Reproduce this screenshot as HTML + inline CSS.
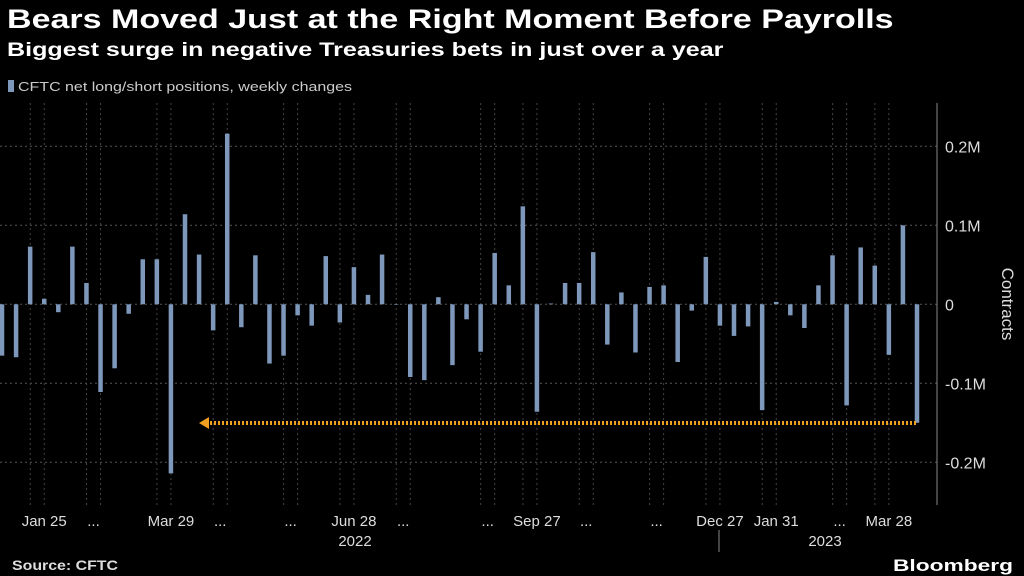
<!DOCTYPE html>
<html><head><meta charset="utf-8"><style>
body{margin:0;background:#000;width:1024px;height:576px;overflow:hidden;font-family:"Liberation Sans",sans-serif;color:#fff}
.t{position:absolute;left:7px;top:4px;font-size:27px;font-weight:bold;transform:scaleX(1.26);transform-origin:left top;white-space:nowrap}
.s{position:absolute;left:7px;top:40px;font-size:19px;font-weight:bold;transform:scaleX(1.32);transform-origin:left top;white-space:nowrap}
</style></head><body>
<div class="t">Bears Moved Just at the Right Moment Before Payrolls</div>
<div class="s">Biggest surge in negative Treasuries bets in just over a year</div>
<svg width="1024" height="576" style="position:absolute;left:0;top:0" id="c">
<g><rect x="8" y="80" width="6" height="12" fill="#7e98bb"/><text x="18" y="91" fill="#ccc" font-size="13" textLength="334" lengthAdjust="spacingAndGlyphs">CFTC net long/short positions, weekly changes</text></g>
<g id="grid"></g><g id="bars"></g>
<line x1="937" y1="103" x2="937" y2="505" stroke="#888"/>
<text transform="translate(1002,304) rotate(90)" fill="#ddd" font-size="17" text-anchor="middle">Contracts</text>
<g id="ylab"></g><g id="xlab"></g>
<g><line x1="206" y1="423" x2="917" y2="423" stroke="#f0a020" stroke-width="4" stroke-dasharray="2,2"/><path d="M199 423 L209 417 L209 429Z" fill="#f0a020"/></g>
<text x="355" y="546" fill="#ddd" font-size="15" text-anchor="middle">2022</text>
<text x="825" y="546" fill="#ddd" font-size="15" text-anchor="middle">2023</text>
<line x1="719" y1="530" x2="719" y2="552" stroke="#888"/>
<text x="12" y="570" fill="#ddd" font-size="14" font-weight="bold" textLength="106" lengthAdjust="spacingAndGlyphs">Source: CFTC</text>
<text x="893" y="571" fill="#fff" font-size="17" font-weight="bold" textLength="120" lengthAdjust="spacingAndGlyphs">Bloomberg</text>
</svg>
<script>
const values=[-65,-67,73,7,-10,73,27,-111,-81,-12,57,57,-214,114,63,-33,216,-29,62,-75,-65,-14,-27,61,-23,47,12,63,0,-92,-96,9,-77,-19,-60,65,24,124,-136,1,27,27,66,-51,15,-61,22,24,-73,-8,60,-27,-40,-28,-134,3,-14,-30,24,62,-128,72,49,-64,100,-150];
const yTicks=[200,100,0,-100,-200];
const yTickLabels=["0.2M","0.1M","0","-0.1M","-0.2M"];
const xLabels=["Jan 25","...","Mar 29","...","...","Jun 28","...","...","Sep 27","...","...","Dec 27","Jan 31","...","Mar 28"];
const xLabelIdx=[3,7,12,16,21,25,29,35,38,42,47,51,55,60,63];
const NS="http://www.w3.org/2000/svg";
const x=i=>2+i*(915/(values.length-1));
const y=v=>304.3-v*0.79;
function mk(t,a,p){const e=document.createElementNS(NS,t);for(const k in a)e.setAttribute(k,a[k]);document.getElementById(p).appendChild(e);return e;}
yTicks.forEach((v,i)=>{
 const g=mk('line',{x1:0,x2:937,y1:y(v),y2:y(v),stroke:'#555','stroke-dasharray':'2,3'},'grid');
 
 
 const t=mk('text',{x:945,y:y(v)+6,fill:'#ddd','font-size':16},'ylab');t.textContent=yTickLabels[i];
 
 
});
xLabelIdx.forEach((k,i)=>{
 [x(k),x(k)-14].forEach(p=>mk('line',{x1:p,x2:p,y1:103,y2:505,stroke:'#444','stroke-dasharray':'2,3'},'grid'));
 const t=mk('text',{x:x(k)-(xLabels[i]==='...'?7:0),y:526,fill:'#ddd','font-size':15,'text-anchor':'middle'},'xlab');t.textContent=xLabels[i];
 
 
});
values.forEach((v,i)=>{
 const r=mk('rect',{x:x(i)-2.25,width:4.5,y:Math.min(y(v),y(0)),height:Math.max(Math.abs(y(v)-y(0)),0.5),fill:'#7e98bb'},'bars');
 
 
});
</script>
</body></html>
